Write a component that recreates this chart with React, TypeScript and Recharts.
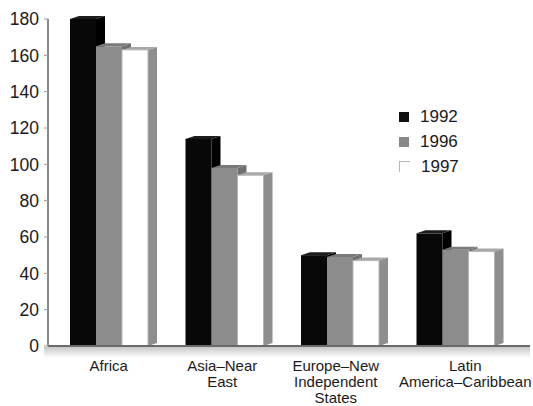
import React from "react";
import { BarChart, Bar, XAxis, YAxis, Legend } from "recharts";

const categories = ["Africa", "Asia–Near East", "Europe–New Independent States", "Latin America–Caribbean"];
const tickLines = [["Africa"], ["Asia–Near", "East"], ["Europe–New", "Independent", "States"], ["Latin", "America–Caribbean"]];
const values1992 = [180, 114, 50, 62];
const values1996 = [165, 98, 49, 53];
const values1997 = [163, 94, 47, 52];
const yTicks = [0, 20, 40, 60, 80, 100, 120, 140, 160, 180];

const data = categories.map((name, i) => ({
  name,
  y1992: values1992[i],
  y1996: values1996[i],
  y1997: values1997[i],
}));

const FONT = "'Liberation Sans', Arial, sans-serif";
const DX = 9;
const DY = 3;

// front face + right side + top, so bars look extruded
function makeBox(front: string, side: string, top: string, stroke?: string) {
  return (props: any) => {
    const { x, y, width, height } = props;
    if (height == null || height <= 0) return <g />;
    const r = x + width;
    const b = y + height;
    return (
      <g>
        <polygon points={`${r},${y} ${r + DX},${y - DY} ${r + DX},${b - DY} ${r},${b}`} fill={side} />
        <polygon points={`${x},${y} ${x + DX},${y - DY} ${r + DX},${y - DY} ${r},${y}`} fill={top} />
        <rect x={x} y={y} width={width} height={height} fill={front} stroke={stroke} strokeWidth={stroke ? 1 : 0} />
      </g>
    );
  };
}

const series = [
  { key: "y1992", label: "1992", front: "#080808", side: "#000", top: "#1c1c1c", swatch: "#111" },
  { key: "y1996", label: "1996", front: "#8c8c8c", side: "#707070", top: "#7a7a7a", swatch: "#888" },
  { key: "y1997", label: "1997", front: "#ffffff", side: "#8e8e8e", top: "#a8a8a8", swatch: "#fff", stroke: "#b5b5b5" },
];

const labelShift = [0, -2, -4, 10];

function CategoryTick(props: any) {
  const { x, y, index } = props;
  const lines = tickLines[index] || [];
  return (
    <text x={x + labelShift[index]} y={y + 17} textAnchor="middle" fontSize={15} fill="#1a1a1a" fontFamily={FONT}>
      {lines.map((line, i) => (
        <tspan key={i} x={x + labelShift[index]} dy={i === 0 ? 0 : 16}>
          {line}
        </tspan>
      ))}
    </text>
  );
}

function YearLegend() {
  return (
    <div style={{ fontFamily: FONT, fontSize: 17, color: "#1a1a1a", lineHeight: "25px" }}>
      {series.map((s) => (
        <div key={s.key} style={{ display: "flex", alignItems: "center" }}>
          <span
            style={{
              display: "inline-block",
              width: 10,
              height: 10,
              marginRight: 11,
              background: s.swatch,
              border: s.stroke ? `1px solid ${s.stroke}` : "none",
              borderRight: s.stroke ? "none" : undefined,
              borderBottom: s.stroke ? "none" : undefined,
            }}
          />
          {s.label}
        </div>
      ))}
    </div>
  );
}

export default function App() {
  return (
    <div style={{ position: "absolute", left: 0, top: 0, width: 533, height: 406, background: "#fff" }}>
      <div
        style={{
          position: "absolute",
          left: 44,
          top: 347,
          width: 486,
          height: 11,
          background: "linear-gradient(#c8c8c8, #ffffff)",
        }}
      />
      <BarChart
        width={533}
        height={406}
        data={data}
        margin={{ top: 19, right: 3, left: 0, bottom: 0 }}
        barSize={26}
        barGap={0}
        style={{ position: "absolute", left: 0, top: 0 }}
      >
        <XAxis
          dataKey="name"
          height={60}
          padding={{ left: 3, right: 17 }}
          axisLine={{ stroke: "#6a6a6a", strokeWidth: 2 }}
          tickLine={false}
          tick={<CategoryTick />}
          interval={0}
        />
        <YAxis
          width={48}
          domain={[0, 180]}
          ticks={yTicks}
          interval={0}
          tickSize={4}
          tickMargin={5}
          axisLine={{ stroke: "#8a8a8a", strokeWidth: 2 }}
          tickLine={{ stroke: "#9a9a9a" }}
          tick={{ fontSize: 17.5, fill: "#1a1a1a", fontFamily: FONT }}
        />
        <Legend
          layout="vertical"
          align="center"
          verticalAlign="middle"
          content={<YearLegend />}
          wrapperStyle={{ left: 399, top: 104, width: 80 }}
        />
        {series.map((s) => (
          <Bar
            key={s.key}
            dataKey={s.key}
            name={s.label}
            fill={s.front}
            isAnimationActive={false}
            shape={makeBox(s.front, s.side, s.top, s.stroke)}
          />
        ))}
      </BarChart>
    </div>
  );
}
